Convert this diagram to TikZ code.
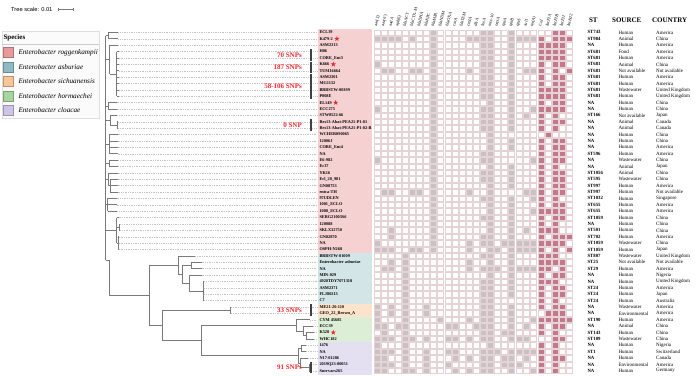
\documentclass[tikz,border=0pt]{standalone}
\usepackage{fontspec}
\setmainfont{Liberation Serif}
\newfontfamily\sansf{Liberation Sans}
\usetikzlibrary{shapes.geometric}
\definecolor{treec}{HTML}{7A7A7A}
\definecolor{leadc}{HTML}{C4C4C4}
\definecolor{gridc}{HTML}{E6D3D7}
\definecolor{greyc}{HTML}{C9C1C3}
\definecolor{pinkc}{HTML}{C4798B}
\definecolor{snpred}{HTML}{F0282D}
\definecolor{rogL}{HTML}{E89A9C}\definecolor{rogS}{HTML}{F6D1D2}
\definecolor{asbL}{HTML}{8DBAC4}\definecolor{asbS}{HTML}{D4E5E7}
\definecolor{sicL}{HTML}{F7C699}\definecolor{sicS}{HTML}{FCE3CC}
\definecolor{horL}{HTML}{A6D69D}\definecolor{horS}{HTML}{DCEFD6}
\definecolor{cloL}{HTML}{CEC5E5}\definecolor{cloS}{HTML}{E4DFF1}
\newcommand\ry[1]{26.015+#1*6.385}
\newcommand\hcell[3]{\pgfmathsetmacro\cx{376.7+(#2-1)*7.1+(#2>23)*0.8}\pgfmathsetmacro\cy{32.4+(#1-1)*6.385}\path[fill=#3,draw=gridc,line width=0.4pt] (\cx-3.0,\cy-2.7) rectangle (\cx+3.0,\cy+2.7);}
\newcommand\hm[3]{\foreach \c in {#2}{\hcell{#1}{\c}{greyc}}\foreach \c in {#3}{\hcell{#1}{\c}{pinkc}}}
\tikzset{
 tl/.style={draw=treec,line width=0.6pt},
 lead/.style={draw=leadc,line width=0.35pt,dash pattern=on 0.45pt off 1.3pt},
 lbl/.style={anchor=west,inner sep=0,font=\bfseries\fontsize{4.3}{5}\selectfont},
 hdr/.style={anchor=west,inner sep=0,rotate=75,font=\fontsize{4.3}{5}\selectfont},
 tbl/.style={anchor=west,inner sep=0,font=\fontsize{5}{6}\selectfont},
 tblb/.style={anchor=west,inner sep=0,font=\bfseries\fontsize{4.8}{6}\selectfont},
 colh/.style={inner sep=0,font=\bfseries\fontsize{7}{8}\selectfont},
 snp/.style={anchor=east,inner sep=0,text=snpred,font=\bfseries\fontsize{7}{8}\selectfont},
 snpbar/.style={draw=black!75,line width=1.4pt},
 redstar/.style={star,star points=5,star point ratio=2.5,fill=snpred,inner sep=0,minimum size=5.5pt},
 legsq/.style={line width=0.3pt},
 legtx/.style={anchor=west,inner sep=0,font=\itshape\fontsize{7.2}{8}\selectfont}
}
\begin{document}
\begin{tikzpicture}[x=1pt,y=-1pt]
\useasboundingbox (0,0) rectangle (696,375);
\fill[white] (0,0) rectangle (696,375);
% tree scale
\node[anchor=west,inner sep=0,font=\sansf\fontsize{5.7}{6}\selectfont] (ts) at (11,9.7) {Tree scale: 0.01};
\coordinate (sb1) at (58.3,9.7); \coordinate (sb2) at (73.3,9.7);
\draw[treec,line width=0.5pt] (sb1) -- (sb2);
\draw[treec,line width=0.5pt] ([yshift=-1.3pt]sb1) -- ([yshift=1.3pt]sb1) ([yshift=-1.3pt]sb2) -- ([yshift=1.3pt]sb2);
% legend
\draw[draw=gray!25,fill=gray!3] (1.7,31.5) rectangle (99,118);
\node[anchor=west,inner sep=0,font=\bfseries\fontsize{7}{8}\selectfont] (sp) at (3.3,38.3) {Species};
\draw[gray!40,line width=0.5pt] (1.7,44.3) -- (99,44.3);
\foreach \y/\cl/\t in {52.3/rogL/roggenkampii,66.7/asbL/asburiae,81/sicL/sichuanensis,96/horL/hormaechei,110.3/cloL/cloacae}{
 \draw[legsq,fill=\cl,draw=\cl!75!black] (2.7,\y-5) rectangle (12.7,\y+5);
 \node[legtx] at (18.3,\y) {Enterobacter \t};}
% strips
\fill[rogS] (318,\ry{1}-3.2) rectangle (371.7,\ry{35}+3.2);
\fill[asbS] (318,\ry{36}-3.2) rectangle (371.7,\ry{43}+3.2);
\fill[sicS] (318,\ry{44}-3.2) rectangle (371.7,\ry{45}+3.2);
\fill[horS] (318,\ry{46}-3.2) rectangle (371.7,\ry{49}+3.2);
\fill[cloS] (318,\ry{50}-3.2) rectangle (371.7,375);
% leaders
\foreach \k/\tx in {1/118.3,2/118.3,3/118.3,4/118.8,5/118.8,6/118.8,7/118.8,8/118.8,9/118.8,10/118.8,11/118.8,12/116.7,13/116.7,14/117,15/118,16/118,17/117.5,18/117.5,19/117.5,20/117.5,21/118,22/118,23/117.5,24/117.5,25/117.5,26/117.5,27/116.7,28/116.7,29/117.3,30/118.5,31/120.3,32/120.3,33/118.8,34/118.8,35/118.8,36/195,37/201.7,38/201.7,39/201.7,40/204.3,41/204.3,42/204.3,43/204.3,44/231,45/231,46/310,47/313,48/314,49/314,50/306,51/306,52/308,53/311,54/311}
 {\draw[lead] (\tx,\ry{\k}) -- (317,\ry{\k});}
% tip branches
\foreach \k/\px/\tx in {1/108.3/118.3,2/108.3/118.3,3/109.5/118.3,4/116.7/118.8,5/116.7/118.8,6/116.7/118.8,7/116.7/118.8,8/116.7/118.8,9/116.7/118.8,10/116.7/118.8,11/116.7/118.8,12/108.3/116.7,13/108.3/116.7,14/110/117,15/117.3/118,16/117.3/118,17/109.3/117.5,18/109.3/117.5,19/109.3/117.5,20/109.3/117.5,21/109.3/118,22/109.3/118,23/108.3/117.5,24/110.3/117.5,25/110.3/117.5,26/110.3/117.5,27/107.5/116.7,28/107.5/116.7,29/107.5/117.3,30/116.7/118.5,31/119.3/120.3,32/119.3/120.3,33/118.3/118.8,34/118.3/118.8,35/118.3/118.8,36/178.3/195,37/191.7/201.7,38/191.7/201.7,39/189/201.7,40/203.3/204.3,41/203.3/204.3,42/203.3/204.3,43/203.3/204.3,44/230/231,45/230/231,46/296/310,47/303/313,48/306/314,49/306/314,50/301/306,51/301/306,52/300/308,53/309/311,54/309/311}
 {\draw[tl] (\px,\ry{\k}) -- (\tx,\ry{\k});}
% roggenkampii internal
\draw[tl] (105.5,\ry{1.5}) -- (105.5,260);
\draw[tl] (108.3,\ry{1}) -- (108.3,\ry{2}) (105.5,\ry{1.5}) -- (108.3,\ry{1.5});
\draw[tl] (109.5,\ry{3}) -- (109.5,\ry{7.5}) (105.5,\ry{5.25}) -- (109.5,\ry{5.25}) (109.5,\ry{7.5}) -- (116.7,\ry{7.5}) (116.7,\ry{4}) -- (116.7,\ry{11});
\draw[tl] (108.3,\ry{12}) -- (108.3,\ry{13}) (105.5,\ry{12.5}) -- (108.3,\ry{12.5});
\draw[tl] (110,\ry{14}) -- (110,\ry{15.5}) (105.5,\ry{14.75}) -- (110,\ry{14.75}) (110,\ry{15.5}) -- (117.3,\ry{15.5}) (117.3,\ry{15}) -- (117.3,\ry{16});
\draw[tl] (109.3,\ry{17}) -- (109.3,\ry{20}) (105.5,\ry{18.5}) -- (109.3,\ry{18.5});
\draw[tl] (109.3,\ry{21}) -- (109.3,\ry{22}) (105.5,\ry{21.5}) -- (109.3,\ry{21.5});
\draw[tl] (108.3,\ry{23}) -- (108.3,\ry{25}) (105.5,\ry{24}) -- (108.3,\ry{24}) (108.3,\ry{25}) -- (110.3,\ry{25}) (110.3,\ry{24}) -- (110.3,\ry{26});
\draw[tl] (107.5,\ry{27}) -- (107.5,\ry{29}) (105.5,\ry{28}) -- (107.5,\ry{28});
\draw[tl] (116.7,\ry{30}) -- (116.7,\ry{34}) (105.5,\ry{32}) -- (116.7,\ry{32}) (116.7,\ry{31.5}) -- (119.3,\ry{31.5}) (119.3,\ry{31}) -- (119.3,\ry{32}) (116.7,\ry{34}) -- (118.3,\ry{34}) (118.3,\ry{33}) -- (118.3,\ry{35});
% root
\draw[tl] (105.5,260) -- (109.3,260) -- (109.3,\ry{42.15625}) -- (149,\ry{42.15625});
\draw[tl] (149,\ry{37.4375}) -- (149,\ry{46.875});
% asburiae
\draw[tl] (149,\ry{37.4375}) -- (178.3,\ry{37.4375}) (178.3,\ry{36}) -- (178.3,\ry{38.875}) (178.3,\ry{38.875}) -- (182.3,\ry{38.875}) (182.3,\ry{37.5}) -- (182.3,\ry{40.25}) (182.3,\ry{37.5}) -- (191.7,\ry{37.5}) (191.7,\ry{37}) -- (191.7,\ry{38}) (182.3,\ry{40.25}) -- (189,\ry{40.25}) (189,\ry{39}) -- (189,\ry{41.5}) (189,\ry{41.5}) -- (203.3,\ry{41.5}) (203.3,\ry{40}) -- (203.3,\ry{43});
% other clades
\draw[tl] (149,\ry{46.875}) -- (162.3,\ry{46.875}) (162.3,\ry{44.5}) -- (162.3,\ry{49.25}) (162.3,\ry{44.5}) -- (230,\ry{44.5}) (230,\ry{44}) -- (230,\ry{45});
\draw[tl] (162.3,\ry{49.25}) -- (201.7,\ry{49.25}) (201.7,\ry{46.875}) -- (201.7,\ry{51.625});
\draw[tl] (201.7,\ry{46.875}) -- (296,\ry{46.875}) (296,\ry{46}) -- (296,\ry{47.75}) (296,\ry{47.75}) -- (303,\ry{47.75}) (303,\ry{47}) -- (303,\ry{48.5}) (303,\ry{48.5}) -- (306,\ry{48.5}) (306,\ry{48}) -- (306,\ry{49});
\draw[tl] (201.7,\ry{51.625}) -- (298.3,\ry{51.625}) (298.3,\ry{50.5}) -- (298.3,\ry{52.75}) (298.3,\ry{50.5}) -- (301,\ry{50.5}) (301,\ry{50}) -- (301,\ry{51}) (298.3,\ry{52.75}) -- (300,\ry{52.75}) (300,\ry{52}) -- (300,\ry{53.5}) (300,\ry{53.5}) -- (309,\ry{53.5}) (309,\ry{53}) -- (309,\ry{54});
% SNP bars and labels
\foreach \a/\b/\t in {4/5/70 SNPs,6/7/187 SNPs,8/11/58-106 SNPs,15/16/0 SNP,44/45/33 SNPs,53/54/91 SNPs}{
 \pgfmathsetmacro\mm{(\a+\b)/2}
 \draw[snpbar] (311,\ry{\a}-2.6) -- (311,\ry{\b}+2.6);
 \node[snp] at (302,\ry{\mm}) {\t};}
% strain labels
\foreach \k/\n in {1/ECL39,2/K479-2,3/ASM2313,4/H06,5/CORE\_Ent3,6/K666,7/TUM16664,8/ASM2301,9/MG1132,10/BRBSTW-00399,11/P008E,12/EL149,13/ECC275,14/STW0522-66,15/Res13-Abat-PEA21-P1-01,16/Res13-Abat-PEA21-P1-02-B,17/WCHER090065,18/12006J,19/CORE\_Ent4,20/NA,21/E6-982,22/Ec37,23/YK16,24/Ecl\_20\_981,25/GN08753,26/entca-TH,27/97UDLEN,28/1001\_ECLO,29/1000\_ECLO,30/SERG21003S6,31/120088,32/SKLX32750,33/GN02870,34/NA,35/OSPH-N268,36/BRBSTW-01009,37/Enterobacter asburiae,38/NA,39/MIN-029,40/4920TDY7071318,41/ASM2371,42/FLJ80213,43/C7,44/ME21-20-110,45/GEO\_22\_Brown\_A,46/CYM 45685,47/ECC39,48/K528,49/WHC182,50/1476,51/NA,52/N17-01286,53/2019Q23-00051,54/Surrvars265}
 {\node[lbl] (lab\k) at (319.3,\ry{\k}) {\n};}
\foreach \k in {2,6,12,48}{\node[redstar] at ([xshift=3.8pt]lab\k.east) {};}
% heatmap grid
\foreach \k in {1,...,54}{\foreach \c in {1,...,28}{\hcell{\k}{\c}{white}}}
\hm{1}{9,16,17,20}{26,27}
\hm{2}{1,2,3,4,6,9,14,15,16,17,20,21,22,23}{24,26,27,28}
\hm{3}{9,16,17,20}{24,25,26,27}
\hm{4}{9,16,17,20}{24,25,26,27}
\hm{5}{9,16,17,20}{24,25,26,27}
\hm{6}{1,9,16,17,20}{24,26,27}
\hm{7}{2,3,6,7,9,14,16,17,20,22,23}{24,26,28}
\hm{8}{9,16,17,20}{24,26,27}
\hm{9}{9,16,17,20}{24,26,27}
\hm{10}{9,16,17,20}{24,25,26,27}
\hm{11}{9,16,17,20}{24,25,26,27}
\hm{12}{9,17,20}{24,26,27}
\hm{13}{1,9,16,17,20,23}{24,25,26,27}
\hm{14}{9,16,17,20,22}{24,26}
\hm{15}{9,16,17,20}{24,26,27}
\hm{16}{9,16,17,20}{24,26}
\hm{17}{9,17}{25}
\hm{18}{9,17,20}{24,26,27}
\hm{19}{9,17,20}{24,26,27}
\hm{20}{9,16,17}{24,26,27}
\hm{21}{1,9,16,17,23}{24,26,27}
\hm{22}{9,17,20}{24,26}
\hm{23}{9,16,17,20}{24,26,27}
\hm{24}{9,16,17,20}{24,26,27}
\hm{25}{9,17,20}{24,26,27}
\hm{26}{2,3,6,7,9,14,17,22,23}{24,26,27}
\hm{27}{9,16,17,20,23}{24,26}
\hm{28}{9,17,20}{24,26,27}
\hm{29}{9,17,20,23}{24,25,26,27}
\hm{30}{9,16,17,20}{24,26,27}
\hm{31}{9,17,20}{24,26}
\hm{32}{3,9,17,20,22}{24,25,26}
\hm{33}{3,9,16,17,20}{24,26,27,28}
\hm{34}{1,9,14,16,17,19,20,21,22,23}{24,25,26,27}
\hm{35}{1,2,3,6,7,9,14,17,18,20,21,22,23}{24,26,28}
\hm{36}{5,16,17,20}{24,25,26}
\hm{37}{3,5,14,17,20}{24,25,26,27}
\hm{38}{2,3,5,14,16,17,18,20,21,22,23}{24,25,27}
\hm{39}{5,17,20}{24,26,27}
\hm{40}{5,16,17,20}{24,25,26}
\hm{41}{5,16,17,20}{24,26,27}
\hm{42}{5,16,17,20}{24,26,27}
\hm{43}{5,16,17}{24,26}
\hm{44}{1,3,5,8,16,17,20}{24,26,27}
\hm{45}{1,3,5,8,16,17,20}{25,26,27}
\hm{46}{1,5,10,14,16,17,20,23}{24,25,26,27,28}
\hm{47}{1,2,4,5,11,12,15,16,17,20,22}{24,26,27}
\hm{48}{2,5,16,17,19,20}{24,26}
\hm{49}{1,2,3,5,6,8,11,12,14,16,17,20,21,22}{26,27}
\hm{50}{1,5,17}{24,26}
\hm{51}{1,2,3,5,8,11,12,16,17,18,20,21,22,23}{24,26}
\hm{52}{1,2,5,8,12,14,16,17,19,20,22}{24,26,27}
\hm{53}{1,2,3,5,8,11,16,17,19,20,21}{24,26}
\hm{54}{1,2,5,6,8,12,14,16,17,20,23}{24,26}
% column headers
\foreach \c/\t in {1/aac(3),2/aac(6'),3/aadA,4/aph(6),5/blaACT,6/blaCTX-M,7/blaDHA,8/blaKPC,9/blaMIR,10/blaNDM,11/blaOXA,12/catA,13/blaTEM,14/cmlA,15/dfrA,16/fosA,17/mcr-10,18/oqxA,19/qnrA,20/qnrB,21/qnrS,22/sul1,23/tet(A),24/Col,25/IncFIA,26/IncFIB,27/IncFII,28/IncHI2}
 {\pgfmathsetmacro\cx{376.7+(\c-1)*7.1+(\c>23)*0.8}
  \node[hdr] (h\c) at (\cx-1,26.5) {\t};}
% table
\node[colh] (hst) at (593.3,20) {ST};
\node[colh] (hsrc) at (626.7,20) {SOURCE};
\node[colh] (hcty) at (669.7,20) {COUNTRY};
\foreach \k/\st/\src/\cty in {1/ST743/Human/America,2/ST984/Animal/China,3/NA/Human/America,4/ST681/Food/America,5/ST681/Human/America,6/ST681/Animal/China,7/ST681/Not available/Not available,8/ST681/Human/America,9/ST681/Human/America,10/ST681/Wastewater/United Kingdom,11/ST681/Human/United Kingdom,12/NA/Human/China,13/NA/Human/China,14/ST166/Not available/Japan,15/NA/Animal/Canada,16/NA/Animal/Canada,17/NA/Human/China,18/NA/Human/China,19/NA/Human/America,20/ST596/Human/America,21/NA/Wastewater/China,22/NA/Animal/Japan,23/ST1056/Animal/China,24/ST595/Wastewater/China,25/ST997/Human/America,26/ST997/Human/Not available,27/ST1032/Human/Singapore,28/ST655/Human/America,29/ST655/Human/America,30/ST1059/Human/China,31/NA/Human/China,32/ST501/Human/China,33/ST702/Human/America,34/ST1059/Wastewater/China,35/ST1059/Human/Japan,36/ST807/Wastewater/United Kingdom,37/ST25/Not available/Not available,38/ST29/Human/America,39/NA/Human/Nigeria,40/NA/Human/United Kingdom,41/ST24/Human/America,42/ST24/Human/Japan,43/ST24/Human/Australia,44/NA/Wastewater/America,45/NA/Environmental/America,46/ST190/Human/America,47/NA/Animal/China,48/ST143/Human/China,49/ST109/Wastewater/China,50/NA/Human/Nigeria,51/ST1/Human/Switzerland,52/NA/Human/Canada,53/NA/Environmental/America,54/NA/Human/Germany}
 {\node[tblb] (st\k) at (587.3,\ry{\k}) {\st};
  \node[tbl] (src\k) at (618.3,\ry{\k}) {\src};
  \node[tbl] (cty\k) at (656,\ry{\k}) {\cty};}
\end{tikzpicture}
\end{document}
